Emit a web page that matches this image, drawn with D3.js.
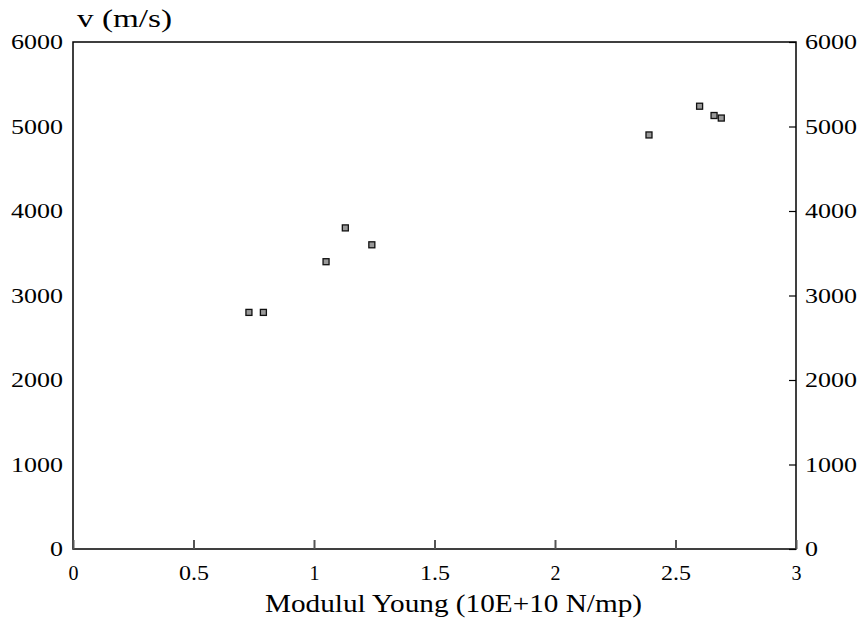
<!DOCTYPE html>
<html>
<head>
<meta charset="utf-8">
<script src="https://cdn.jsdelivr.net/npm/d3@7"></script>
<style>
  body { margin: 0; background: #fff; }
  svg text { font-family: "Times New Roman", "Liberation Serif", Tinos, Times, serif; fill: #000; }
</style>
</head>
<body>
<div id="chart"></div>
<script>
// Young's modulus (10E+10 N/mp) and speed v (m/s)
const modulus = [0.73, 0.79, 1.05, 1.13, 1.24, 2.39, 2.60, 2.66, 2.69];
const speed   = [2800, 2800, 3400, 3800, 3600, 4900, 5240, 5130, 5100];
const xTicks = [0, 0.5, 1, 1.5, 2, 2.5, 3];
const yTicks = [0, 1000, 2000, 3000, 4000, 5000, 6000];

const width = 862, height = 624;
const margin = {top: 42, right: 66, bottom: 75, left: 73};
const w = width - margin.left - margin.right;
const h = height - margin.top - margin.bottom;

const svg = d3.select("#chart").append("svg")
    .attr("width", width)
    .attr("height", height);

const g = svg.append("g")
    .attr("transform", `translate(${margin.left},${margin.top})`);

const x = d3.scaleLinear().domain([0, 3]).range([0, w]);
const y = d3.scaleLinear().domain([0, 6000]).range([h, 0]);

// frame
g.append("rect")
    .attr("width", w).attr("height", h)
    .attr("fill", "none")
    .attr("stroke", "#000")
    .attr("stroke-width", 1.5);

// widen glyphs like the scanned original
const stretch = (sel, perChar) => sel.selectAll(".tick text")
    .attr("textLength", function() { return this.textContent.length * perChar; })
    .attr("lengthAdjust", "spacingAndGlyphs");

const xAxis = g.append("g")
    .attr("transform", `translate(0,${h})`)
    .call(d3.axisBottom(x).tickValues(xTicks).tickSize(-9).tickPadding(25)
        .tickFormat(d => d));
xAxis.select(".domain").remove();
xAxis.selectAll(".tick line").attr("stroke", "#555").attr("stroke-width", 2);
xAxis.selectAll(".tick text").attr("font-size", 21).attr("dy", "0.3em");
stretch(xAxis, 10);

const yLeft = g.append("g")
    .call(d3.axisLeft(y).tickValues(yTicks).tickSize(0).tickPadding(10).tickFormat(d => d));
yLeft.select(".domain").remove();
yLeft.selectAll(".tick text").attr("font-size", 21);
stretch(yLeft, 13);

const yRight = g.append("g")
    .attr("transform", `translate(${w},0)`)
    .call(d3.axisRight(y).tickValues(yTicks).tickSize(-7).tickPadding(9).tickFormat(d => d));
yRight.select(".domain").remove();
yRight.selectAll(".tick line").attr("stroke", "#000").attr("stroke-width", 1.2);
yRight.selectAll(".tick text").attr("font-size", 21);
stretch(yRight, 13);

// points
const pts = modulus.map((m, i) => ({m: m, v: speed[i]}));
g.selectAll(".pt")
    .data(pts)
    .join("rect")
    .attr("class", "pt")
    .attr("x", d => x(d.m) - 3)
    .attr("y", d => y(d.v) - 3)
    .attr("width", 6).attr("height", 6)
    .attr("fill", "#999")
    .attr("stroke", "#111")
    .attr("stroke-width", 1.3);

// axis titles
svg.append("text")
    .attr("x", 77).attr("y", 27)
    .attr("font-size", 25)
    .attr("textLength", 95)
    .attr("lengthAdjust", "spacingAndGlyphs")
    .text("v (m/s)");

svg.append("text")
    .attr("x", 265).attr("y", 612)
    .attr("font-size", 25)
    .attr("textLength", 377)
    .attr("lengthAdjust", "spacingAndGlyphs")
    .text("Modulul Young (10E+10 N/mp)");
</script>
</body>
</html>
